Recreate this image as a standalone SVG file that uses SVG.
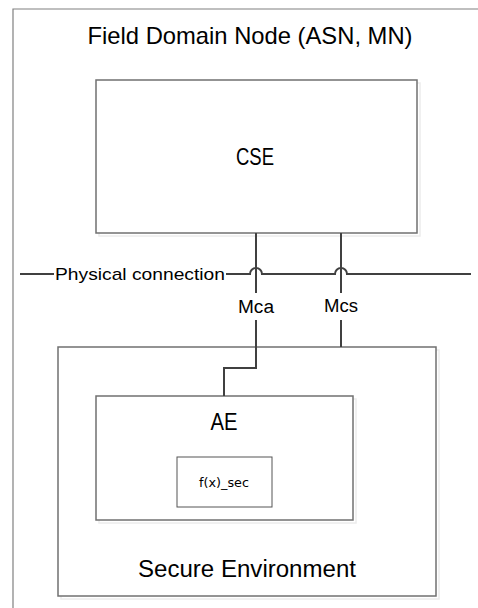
<svg xmlns="http://www.w3.org/2000/svg" width="478" height="608" viewBox="0 0 478 608">
<style>
.box{fill:#fff;stroke:#707070;stroke-width:1.5}
.shadow{fill:none;stroke:#ececec;stroke-width:1.5}
.conn{fill:none;stroke:#404040;stroke-width:2}
.t{font-family:"Liberation Sans",Arial,sans-serif;fill:#000}
</style>
<rect width="478" height="608" fill="#fff"/>
<g id="field-domain-node">
  <path d="M13,620 V9 H490" fill="none" stroke="#808080" stroke-width="1.2"/>
  <text class="t" x="250" y="44" font-size="24" text-anchor="middle" textLength="325" lengthAdjust="spacingAndGlyphs">Field Domain Node (ASN, MN)</text>
</g>
<g id="cse">
  <rect class="shadow" x="99" y="83" width="321" height="153"/>
  <rect class="box" x="96" y="80" width="321" height="153"/>
  <text class="t" x="255" y="165" font-size="24" text-anchor="middle" textLength="38" lengthAdjust="spacingAndGlyphs">CSE</text>
</g>
<g id="secure-environment">
  <rect class="shadow" x="61" y="350" width="378" height="249"/>
  <rect class="box" x="58" y="347" width="378" height="249"/>
  <text class="t" x="247" y="577" font-size="23" text-anchor="middle" textLength="218" lengthAdjust="spacingAndGlyphs">Secure Environment</text>
</g>
<g id="ae">
  <rect class="shadow" x="99" y="399" width="257" height="124"/>
  <rect class="box" x="96" y="396" width="257" height="124"/>
  <text class="t" x="224" y="430" font-size="24" text-anchor="middle" textLength="27" lengthAdjust="spacingAndGlyphs">AE</text>
</g>
<g id="fx-sec">
  <rect x="177" y="457" width="95" height="50" fill="#fff" stroke="#555" stroke-width="1"/>
  <text x="224" y="487" font-family="DejaVu Sans,sans-serif" font-size="12" text-anchor="middle" textLength="50" lengthAdjust="spacingAndGlyphs">f(x)_sec</text>
</g>
<g id="connectors">
  <path class="conn" d="M20,274 H54"/>
  <path class="conn" d="M226,274 H250 A6,6 0 0 1 262,274 H335 A6,6 0 0 1 347,274 H471"/>
  <path class="conn" d="M256,233 V293"/>
  <path class="conn" d="M256,320 V368 H224 V396"/>
  <path class="conn" d="M341,233 V293"/>
  <path class="conn" d="M341,320 V347"/>
  <text class="t" x="140" y="280" font-size="17" text-anchor="middle" textLength="170" lengthAdjust="spacingAndGlyphs">Physical connection</text>
  <text class="t" x="256" y="313" font-size="18" text-anchor="middle" textLength="36" lengthAdjust="spacingAndGlyphs">Mca</text>
  <text class="t" x="341" y="312" font-size="18" text-anchor="middle" textLength="34" lengthAdjust="spacingAndGlyphs">Mcs</text>
</g>
</svg>
